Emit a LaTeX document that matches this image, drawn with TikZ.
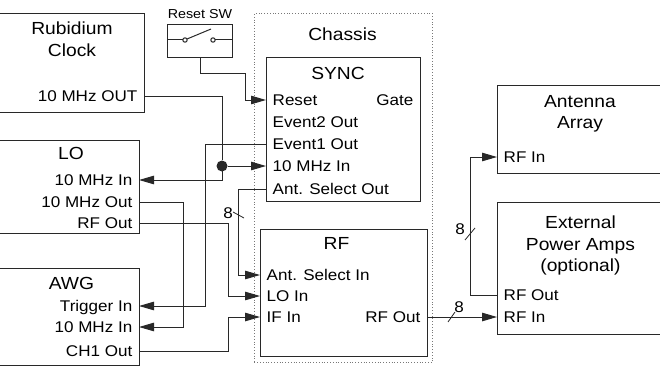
\documentclass[tikz,border=0pt]{standalone}
\usepackage{fontspec}
\setmainfont{Liberation Sans}[FakeStretch=1.1]
\usetikzlibrary{positioning,arrows.meta,calc}
\definecolor{lineCol}{RGB}{40,40,40}
\definecolor{frameCol}{RGB}{120,120,120}
\tikzset{
  blk/.style={rectangle, draw=lineCol, line width=1pt, anchor=north west, inner sep=0pt},
  frame/.style={rectangle, draw=frameCol, line width=0.8pt, dash pattern=on 0.8pt off 2pt,
                anchor=north west, inner sep=0pt},
  ttl/.style={font=\fontsize{17.5}{21.5}\selectfont, align=center, inner sep=0pt, anchor=north},
  portl/.style={font=\fontsize{15.5}{22}\selectfont, anchor=west, inner xsep=6.5pt, inner ysep=0pt,
                text height=11pt, text depth=0pt},
  portr/.style={portl, anchor=east},
  swlbl/.style={font=\fontsize{13}{15}\selectfont, inner sep=0pt},
  num/.style={font=\fontsize{15.5}{18}\selectfont, inner sep=0pt},
  flow/.style={-{Triangle[length=15pt,width=8.5pt]}, draw=lineCol, line width=1pt},
  wire/.style={draw=lineCol, line width=1pt},
  bus/.style={draw=lineCol, line width=0.8pt},
  dot/.style={circle, fill=lineCol, inner sep=0pt, minimum size=11pt},
}

\begin{document}
\begin{tikzpicture}[x=1pt, y=-1pt]
  \useasboundingbox (0,0) rectangle (660,369);
  \node[blk, minimum width=152pt, minimum height=99pt] (rb) at (-8,13) {};
  \node[blk, minimum width=147pt, minimum height=93pt] (lo) at (-8,140) {};
  \node[blk, minimum width=147pt, minimum height=97pt] (awg) at (-8,268) {};
  \node[blk, minimum width=65pt, minimum height=33pt] (sw) at (167,24) {};
  \node[frame, minimum width=178pt, minimum height=349pt] (ch) at (254,13) {};
  \node[blk, minimum width=154pt, minimum height=144pt] (sync) at (266,57) {};
  \node[blk, minimum width=167pt, minimum height=127pt] (rf) at (260,229) {};
  \node[blk, minimum width=175pt, minimum height=88pt] (ant) at (497,85) {};
  \node[blk, minimum width=175pt, minimum height=132pt] (ext) at (497,202) {};

  \node[ttl] (rbT) at (72,22) {Rubidium\\Clock};
  \node[ttl] (loT) at (71,147) {LO};
  \node[ttl] (awgT) at (71.5,277) {AWG};
  \node[ttl] (chT) at (342.5,28) {Chassis};
  \node[ttl] (syncT) at (338,67) {SYNC};
  \node[ttl] (rfT) at (336.5,237) {RF};
  \node[ttl] (antT) at (580,95) {Antenna\\Array};
  \node[ttl] (extT) at (580.5,216) {External\\Power Amps\\(optional)};
  \node[swlbl, above=5pt of sw] (swT) {Reset SW};

  \draw[wire] (sw.west |- 0,40) -- (182.8,40);
  \draw[wire] (185,40) circle (2.2);
  \draw[wire] (187,39) -- (211,29);
  \draw[wire] (213,40) circle (2.2);
  \draw[wire] (215.2,40) -- (sw.east |- 0,40);

  \node[portr] (rbout) at (144,96) {10 MHz OUT};
  \node[portr] (lo10in) at (139,180) {10 MHz In};
  \node[portr] (lo10out) at (139,202) {10 MHz Out};
  \node[portr] (lorf) at (139,223) {RF Out};
  \node[portr] (awgtrig) at (139,306) {Trigger In};
  \node[portr] (awg10in) at (139,327) {10 MHz In};
  \node[portr] (awgch1) at (139,351) {CH1 Out};
  \node[portl] (sreset) at (266,100) {Reset};
  \node[portr] (sgate) at (420,100) {Gate};
  \node[portl] (sev2) at (266,122) {Event2 Out};
  \node[portl] (sev1) at (266,144) {Event1 Out};
  \node[portl] (s10in) at (266,166) {10 MHz In};
  \node[portl] (santout) at (266,189) {Ant. Select Out};
  \node[portl] (rfant) at (260,275) {Ant. Select In};
  \node[portl] (rflo) at (260,296) {LO In};
  \node[portl] (rfif) at (260,317) {IF In};
  \node[portr] (rfout) at (427,317) {RF Out};
  \node[portl] (antin) at (497,157) {RF In};
  \node[portl] (extout) at (497,295) {RF Out};
  \node[portl] (extin) at (497,317) {RF In};

  \node[dot] (jn) at (222,166) {};

  \draw[flow] (sw.south) |- (245,73) |- (sreset.west);
  \draw[wire] (rbout.east) -| (jn);
  \draw[flow] (jn) -- (s10in.west);
  \draw[flow] (jn.center) |- (lo10in.east);
  \draw[flow] (sev1.west) -| (205,306) -- (awgtrig.east);
  \draw[flow] (lo10out.east) -| (183,327) -- (awg10in.east);
  \draw[flow] (lorf.east) -| (228,296) -- (rflo.west);
  \draw[flow] (awgch1.east) -| (228,317) -- (rfif.west);
  \draw[flow] (santout.west) -| (238,275) -- (rfant.west);
  \draw[flow] (rfout.east) -- (extin.west);
  \draw[flow] (extout.west) -| (470,157) -- (antin.west);

  \draw[bus] (233,212) -- (244,218);
  \node[num] (bus1) at (228,213) {8};
  \draw[bus] (465,240) -- (475,228);
  \node[num] (bus2) at (460,229) {8};
  \draw[bus] (448,322) -- (455,312);
  \node[num] (bus3) at (459,307) {8};
\end{tikzpicture}
\end{document}
